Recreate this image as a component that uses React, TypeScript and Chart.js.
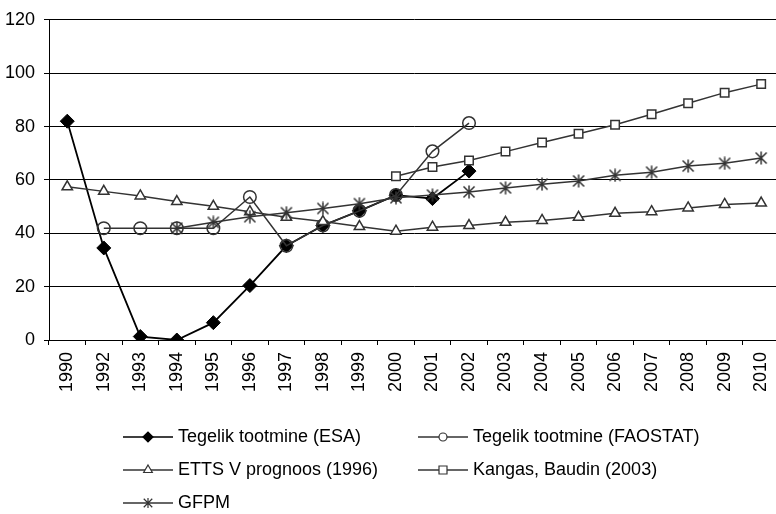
import React, { useEffect, useRef } from 'react';
import { Chart, registerables } from 'chart.js';

Chart.register(...registerables);

const years = ['1990', '1992', '1993', '1994', '1995', '1996', '1997', '1998', '1999', '2000',
  '2001', '2002', '2003', '2004', '2005', '2006', '2007', '2008', '2009', '2010'];

const esaValues = [82, 34.5, 1.3, 0, 6.5, 20.4, 35.3, 42.9, 48.4, 54.3, 53, 63.3,
  null, null, null, null, null, null, null, null];
const faostatValues = [null, 41.9, 41.9, 41.9, 41.9, 53.6, 35.3, 42.9, 48.4, 54.3, 70.7, 81.3,
  null, null, null, null, null, null, null, null];
const ettsValues = [57.4, 55.7, 54.0, 51.9, 50.1, 48.1, 46.0, 44.4, 42.5, 40.8, 42.3, 42.9,
  44.1, 44.8, 46.0, 47.5, 48.1, 49.5, 50.8, 51.3];
const kangasValues = [null, null, null, null, null, null, null, null, null, 61.4, 64.8, 67.3,
  70.6, 74.0, 77.3, 80.7, 84.6, 88.7, 92.7, 95.9];
const gfpmValues = [null, null, null, 41.9, 44.1, 46.2, 47.7, 49.3, 51.1, 53.3, 54.3, 55.5,
  57.0, 58.4, 59.6, 61.7, 62.9, 65.2, 66.2, 68.2];

const seriesNames = ['Tegelik tootmine (ESA)', 'Tegelik tootmine (FAOSTAT)', 'ETTS V prognoos (1996)',
  'Kangas, Baudin (2003)', 'GFPM'];
const yTicks = [0, 20, 40, 60, 80, 100, 120];

const FONT = '"Liberation Sans", Arial, Helvetica, sans-serif';
const DARK = '#333333';

function makeStar(size: number, color: string, lw: number): HTMLCanvasElement {
  const c = document.createElement('canvas');
  c.width = size;
  c.height = size;
  const ctx = c.getContext('2d')!;
  ctx.strokeStyle = color;
  ctx.lineWidth = lw;
  const m = size / 2;
  const r = size / 2 - 0.5;
  const d = r * 0.85;
  ctx.beginPath();
  ctx.moveTo(m, m - r);
  ctx.lineTo(m, m + r);
  ctx.moveTo(m - d, m - d);
  ctx.lineTo(m + d, m + d);
  ctx.moveTo(m + d, m - d);
  ctx.lineTo(m - d, m + d);
  ctx.stroke();
  return c;
}

function drawMarker(ctx: CanvasRenderingContext2D, kind: string, x: number, y: number, r: number,
  fill: string | null, stroke: string, lw: number) {
  ctx.save();
  ctx.lineWidth = lw;
  ctx.strokeStyle = stroke;
  ctx.beginPath();
  if (kind === 'diamond') {
    ctx.moveTo(x - r, y);
    ctx.lineTo(x, y - r);
    ctx.lineTo(x + r, y);
    ctx.lineTo(x, y + r);
    ctx.closePath();
  } else if (kind === 'circle') {
    ctx.arc(x, y, r, 0, Math.PI * 2);
  } else if (kind === 'triangle') {
    ctx.moveTo(x, y - r);
    ctx.lineTo(x + 0.866 * r, y + 0.5 * r);
    ctx.lineTo(x - 0.866 * r, y + 0.5 * r);
    ctx.closePath();
  } else if (kind === 'square') {
    ctx.rect(x - r, y - r, 2 * r, 2 * r);
  } else if (kind === 'star') {
    const d = r * 0.85;
    ctx.moveTo(x, y - r);
    ctx.lineTo(x, y + r);
    ctx.moveTo(x - d, y - d);
    ctx.lineTo(x + d, y + d);
    ctx.moveTo(x + d, y - d);
    ctx.lineTo(x - d, y + d);
  }
  if (fill) {
    ctx.fillStyle = fill;
    ctx.fill();
  }
  ctx.stroke();
  ctx.restore();
}

const legendPlugin = {
  id: 'customLegend',
  afterDraw(chart: any) {
    const ctx: CanvasRenderingContext2D = chart.ctx;
    const items = [
      { name: seriesNames[0], kind: 'diamond', color: '#000', fill: '#000', r: 5, col: 0, row: 0 },
      { name: seriesNames[1], kind: 'circle', color: DARK, fill: '#fff', r: 4, col: 1, row: 0 },
      { name: seriesNames[2], kind: 'triangle', color: DARK, fill: '#fff', r: 5, col: 0, row: 1 },
      { name: seriesNames[3], kind: 'square', color: DARK, fill: '#fff', r: 4, col: 1, row: 1 },
      { name: seriesNames[4], kind: 'star', color: DARK, fill: null, r: 5, col: 0, row: 2 },
    ];
    const colX = [123, 418];
    const rowY = [437, 470, 503];
    ctx.save();
    ctx.font = `18px ${FONT}`;
    ctx.textBaseline = 'middle';
    ctx.textAlign = 'left';
    for (const it of items) {
      const x0 = colX[it.col];
      const y = rowY[it.row];
      ctx.strokeStyle = it.color;
      ctx.lineWidth = 1.5;
      ctx.beginPath();
      ctx.moveTo(x0, y);
      ctx.lineTo(x0 + 50, y);
      ctx.stroke();
      drawMarker(ctx, it.kind, x0 + 25, y, it.r, it.fill, it.color, 1.2);
      ctx.fillStyle = '#000';
      ctx.fillText(it.name, x0 + 55, y);
    }
    ctx.restore();
  },
};

const frameRightPlugin = {
  id: 'frameRight',
  afterDatasetsDraw(chart: any) {
    const { ctx, chartArea } = chart;
    ctx.save();
    ctx.strokeStyle = '#000';
    ctx.lineWidth = 1;
    ctx.beginPath();
    const x = Math.round(chartArea.right) + 0.5;
    ctx.moveTo(x, chartArea.top);
    ctx.lineTo(x, chartArea.bottom);
    ctx.stroke();
    ctx.restore();
  },
};

export default function App() {
  const canvasRef = useRef<HTMLCanvasElement | null>(null);

  useEffect(() => {
    if (!canvasRef.current) return;
    const star = makeStar(14, DARK, 1.5);
    const chart = new Chart(canvasRef.current, {
      type: 'line',
      data: {
        labels: years,
        datasets: [
          {
            label: seriesNames[0], data: esaValues, borderColor: '#000', borderWidth: 1.8,
            pointStyle: 'rectRot', pointRadius: 7, pointBackgroundColor: '#000', pointBorderColor: '#000',
            pointBorderWidth: 1, order: 5,
          },
          {
            label: seriesNames[1], data: faostatValues, borderColor: DARK, borderWidth: 1.5,
            pointStyle: 'circle', pointRadius: 6.3, pointBackgroundColor: 'rgba(0,0,0,0)', pointBorderColor: DARK,
            pointBorderWidth: 1.5, order: 4,
          },
          {
            label: seriesNames[2], data: ettsValues, borderColor: DARK, borderWidth: 1.5,
            pointStyle: 'triangle', pointRadius: 6, pointBackgroundColor: '#fff', pointBorderColor: DARK,
            pointBorderWidth: 1.5, order: 3,
          },
          {
            label: seriesNames[3], data: kangasValues, borderColor: DARK, borderWidth: 1.5,
            pointStyle: 'rect', pointRadius: 6, pointBackgroundColor: '#fff', pointBorderColor: DARK,
            pointBorderWidth: 1.5, order: 2,
          },
          {
            label: seriesNames[4], data: gfpmValues, borderColor: DARK, borderWidth: 1.5,
            pointStyle: star as any, pointRadius: 7, pointBackgroundColor: DARK, pointBorderColor: DARK,
            order: 1,
          },
        ],
      },
      options: {
        responsive: false,
        animation: false,
        devicePixelRatio: 1,
        spanGaps: false,
        layout: { padding: { top: 16, right: 9, left: 0, bottom: 0 } },
        plugins: {
          legend: { display: false },
          tooltip: { enabled: false },
        },
        scales: {
          x: {
            type: 'category',
            offset: true,
            grid: {
              display: true, offset: true, drawOnChartArea: false, drawTicks: true, tickLength: 5,
              color: '#000', lineWidth: 1,
            },
            border: { display: true, color: '#000', width: 1 },
            ticks: {
              autoSkip: false, maxRotation: 90, minRotation: 90, padding: 7, color: '#000',
              font: { family: FONT, size: 18 },
            },
            afterFit(scale: any) { scale.height = 174; },
          },
          y: {
            min: yTicks[0],
            max: yTicks[yTicks.length - 1],
            afterBuildTicks(scale: any) { scale.ticks = yTicks.map((v) => ({ value: v })); },
            grid: { display: true, drawTicks: true, tickLength: 5, color: '#000', lineWidth: 1 },
            border: { display: true, color: '#000', width: 1 },
            ticks: { padding: 9, color: '#000', font: { family: FONT, size: 18 } },
            afterFit(scale: any) { scale.width = 49; },
          },
        },
      },
      plugins: [legendPlugin, frameRightPlugin],
    });
    return () => chart.destroy();
  }, []);

  return (
    <div style={{ position: 'absolute', left: 0, top: 0, width: 776, height: 514, overflow: 'hidden', background: '#fff' }}>
      <canvas ref={canvasRef} width={790} height={514} style={{ display: 'block', width: 790, height: 514 }} />
    </div>
  );
}
